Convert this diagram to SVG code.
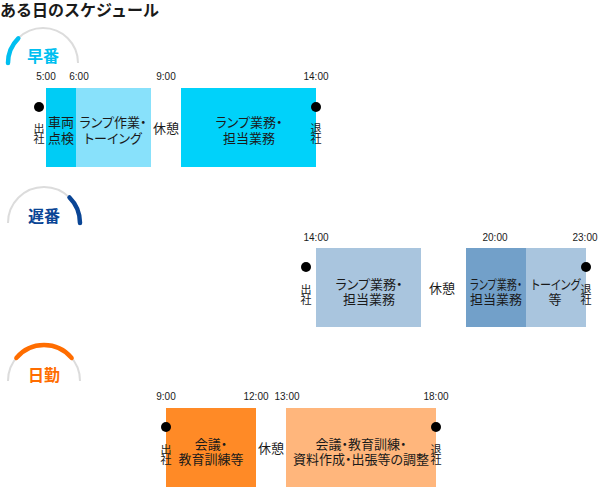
<svg xmlns="http://www.w3.org/2000/svg" width="601" height="487" viewBox="0 0 601 487">
<style>
.jp{font-family:"Noto Sans CJK JP","Noto Sans",sans-serif;fill:#1a1a1a}
.blk{font-size:13px;text-anchor:middle;font-feature-settings:"palt"}
.tm{font-family:"Liberation Sans",Arial,sans-serif;font-size:10px;fill:#1a1a1a;text-anchor:middle}
.vt{font-size:11px;writing-mode:vertical-rl;letter-spacing:-1px}
.arcbg{fill:none;stroke:#dcdcdc;stroke-width:2}
.arcfg{fill:none;stroke-width:4.5;stroke-linecap:round}
.dot{fill:#000}
.hd{font-size:16px;font-weight:bold;text-anchor:middle}
</style>
<text class="jp" x="0" y="16" font-size="16" font-weight="bold">ある日のスケジュール</text>

<g id="early-badge">
<path class="arcbg" d="M8,63 A35,35 0 0 1 78,63"/>
<path class="arcfg" stroke="#00bff0" d="M8,63 A35,35 0 0 1 18.3,38.3"/>
<text class="jp hd" x="43" y="62" style="fill:#00bff0">早番</text>
</g>
<g id="late-badge">
<path class="arcbg" d="M8,223 A36,36 0 0 1 80,223"/>
<path class="arcfg" stroke="#0a4595" d="M69.5,197.5 A36,36 0 0 1 80,223"/>
<text class="jp hd" x="44" y="222" style="fill:#0a4595">遅番</text>
</g>
<g id="day-badge">
<path class="arcbg" d="M8,381 A36,36 0 0 1 80,381"/>
<path class="arcfg" stroke="#ff6d00" d="M16.4,357.9 A36,36 0 0 1 71.6,357.9"/>
<text class="jp hd" x="44" y="381" style="fill:#ff6d00">日勤</text>
</g>

<g id="early">
<text class="tm" x="46" y="80">5:00</text>
<text class="tm" x="79" y="80">6:00</text>
<text class="tm" x="166" y="80">9:00</text>
<text class="tm" x="316" y="80">14:00</text>
<rect x="46" y="88" width="30" height="79" fill="#00ccf5"/>
<rect x="76" y="88" width="75" height="79" fill="#88e1fb"/>
<rect x="181" y="88" width="135" height="79" fill="#00d2fa"/>
<circle class="dot" cx="39" cy="107" r="5"/>
<circle class="dot" cx="316" cy="107" r="5"/>
<text class="jp vt" x="39" y="123">出社</text>
<text class="jp vt" x="316" y="123">退社</text>
<text class="jp blk" x="61" y="127">車両</text>
<text class="jp blk" x="61" y="143">点検</text>
<text class="jp blk" x="113" y="127">ランプ作業・</text>
<text class="jp blk" x="113" y="143">トーイング</text>
<text class="jp blk" x="166" y="133">休憩</text>
<text class="jp blk" x="249" y="127">ランプ業務・</text>
<text class="jp blk" x="249" y="143">担当業務</text>
</g>

<g id="late">
<text class="tm" x="316" y="241">14:00</text>
<text class="tm" x="495" y="241">20:00</text>
<text class="tm" x="585" y="241">23:00</text>
<rect x="316" y="248" width="105" height="79" fill="#a9c5de"/>
<rect x="466" y="248" width="60" height="79" fill="#72a0c9"/>
<rect x="526" y="248" width="60" height="79" fill="#a9c5de"/>
<circle class="dot" cx="306" cy="267" r="5"/>
<circle class="dot" cx="586" cy="267" r="5"/>
<text class="jp vt" x="306" y="284">出社</text>
<text class="jp vt" x="586" y="284">退社</text>
<text class="jp blk" x="369" y="289">ランプ業務・</text>
<text class="jp blk" x="369" y="304">担当業務</text>
<text class="jp blk" x="442" y="293">休憩</text>
<text class="jp blk" x="496" y="289" font-size="11" textLength="52" lengthAdjust="spacingAndGlyphs">ランプ業務・</text>
<text class="jp blk" x="496" y="304" font-size="11">担当業務</text>
<text class="jp blk" x="556" y="289" font-size="12" textLength="49" lengthAdjust="spacingAndGlyphs">トーイング</text>
<text class="jp blk" x="555" y="304">等</text>
</g>

<g id="day">
<text class="tm" x="166" y="400">9:00</text>
<text class="tm" x="256" y="400">12:00</text>
<text class="tm" x="287" y="400">13:00</text>
<text class="tm" x="436" y="400">18:00</text>
<rect x="166" y="408" width="90" height="79" fill="#ff8a26"/>
<rect x="286" y="408" width="150" height="79" fill="#ffb67c"/>
<circle class="dot" cx="166" cy="427" r="5"/>
<circle class="dot" cx="436" cy="427" r="5"/>
<text class="jp vt" x="166" y="444">出社</text>
<text class="jp vt" x="436" y="444">退社</text>
<text class="jp blk" x="211" y="449">会議・</text>
<text class="jp blk" x="211" y="464">教育訓練等</text>
<text class="jp blk" x="271" y="453">休憩</text>
<text class="jp blk" x="361" y="449">会議・教育訓練・</text>
<text class="jp blk" x="361" y="464">資料作成・出張等の調整</text>
</g>
</svg>
